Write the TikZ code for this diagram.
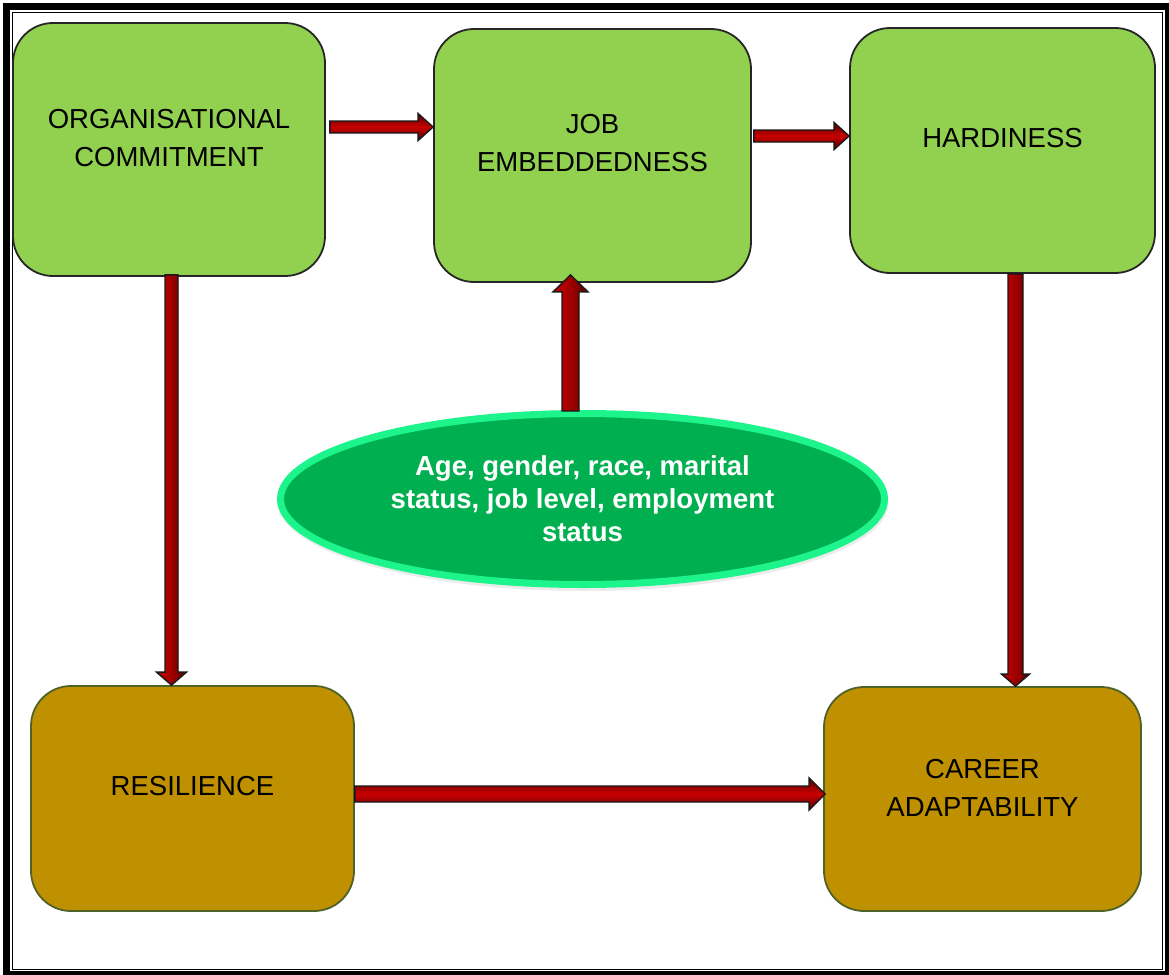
\documentclass[tikz,border=0pt]{standalone}
\usepackage{fontspec}
\setmainfont{Liberation Sans}
\usetikzlibrary{calc,shapes.geometric}

\definecolor{boxgreen}{HTML}{92D050}
\definecolor{boxgold}{HTML}{BF9000}
\definecolor{goldedge}{HTML}{4F6228}
\definecolor{ovalfill}{HTML}{00B050}
\definecolor{ovaledge}{HTML}{1DF58C}
\definecolor{arrred}{HTML}{C80000}
\definecolor{arrdark}{HTML}{5A0000}

% block arrow: start, end, shaft half-width, head half-width, head length, shading
\newcommand\blockarrow[6]{%
  \coordinate (#1-#2-hb) at ($(#2)!#5!(#1)$);
  \draw[arrowbody,#6]
    ($(#1)!#3!90:(#2)$) -- ($(#1-#2-hb)!#3!90:(#2)$) -- ($(#1-#2-hb)!#4!90:(#2)$)
    -- (#2)
    -- ($(#1-#2-hb)!#4!-90:(#2)$) -- ($(#1-#2-hb)!#3!-90:(#2)$) -- ($(#1)!#3!-90:(#2)$) -- cycle;
}

\tikzset{
  greenbox/.style={rectangle, rounded corners=40pt, draw=black!85, line width=1.8pt,
                   fill=boxgreen, inner sep=0pt},
  goldbox/.style={rectangle, rounded corners=40pt, draw=goldedge, line width=1.8pt,
                  fill=boxgold, inner sep=0pt},
  boxtext/.style={font=\fontsize{27.5}{38}\selectfont, align=center, text=black, inner sep=0pt},
  arrowbody/.style={draw=black!90, line width=1.4pt, line join=miter},
  hshade/.style={top color=arrdark, bottom color=arrdark, middle color=arrred},
  vshade/.style={left color=arrred, right color=arrdark, middle color=arrred!80!black},
}

\begin{document}
\begin{tikzpicture}[x=1pt, y=-1pt]
  \useasboundingbox (0,0) rectangle (1169,974);
  \fill[white] (0,0) rectangle (1169,974);

  % double frame
  \draw[line width=7pt] (6.5,6.5) rectangle (1168.5,974.5);
  \draw[line width=1.5pt] (12.5,12.5) rectangle (1162.5,969.5);

  % boxes
  \node[greenbox, minimum width=312pt, minimum height=253pt] (oc) at (169,149.5) {};
  \node[greenbox, minimum width=317pt, minimum height=253pt] (je) at (592.5,155.5) {};
  \node[greenbox, minimum width=305pt, minimum height=245pt] (h)  at (1002.5,150.5) {};
  \node[goldbox,  minimum width=323pt, minimum height=225pt] (r)  at (192.5,798.5) {};
  \node[goldbox,  minimum width=317pt, minimum height=224pt] (ca) at (982.5,799) {};

  \node[boxtext] (oct) at ([yshift=11.5pt]oc.center) {ORGANISATIONAL\\COMMITMENT};
  \node[boxtext] (jet) at ([yshift=12pt]je.center) {JOB\\EMBEDDEDNESS};
  \node[boxtext] (ht)  at ([yshift=12pt]h.center) {HARDINESS};
  \node[boxtext] (rt)  at ([yshift=12pt]r.center) {RESILIENCE};
  \node[boxtext] (cat) at ([yshift=11pt]ca.center) {CAREER\\ADAPTABILITY};

  % arrows
  \coordinate (s1) at ([xshift=4pt,yshift=22.5pt]oc.east);
  \coordinate (e1) at (je.west |- s1);
  \blockarrow{s1}{e1}{6pt}{13.5pt}{15pt}{hshade}

  \coordinate (s2) at ([xshift=2pt,yshift=19.5pt]je.east);
  \coordinate (e2) at (h.west |- s2);
  \blockarrow{s2}{e2}{6pt}{13.5pt}{15pt}{hshade}

  \coordinate (s4) at ([xshift=2.5pt,yshift=2pt]oc.south);
  \coordinate (e4) at (s4 |- r.north);
  \blockarrow{s4}{e4}{6.5pt}{15pt}{13pt}{vshade}

  \coordinate (s5) at ([xshift=13pt]h.south);
  \coordinate (e5) at (s5 |- ca.north);
  \blockarrow{s5}{e5}{7.5pt}{14pt}{12pt}{vshade}

  \coordinate (s6) at ([yshift=4.5pt]r.east);
  \coordinate (e6) at ([xshift=2pt]ca.west |- s6);
  \blockarrow{s6}{e6}{8pt}{16pt}{16pt}{hshade}

  % oval with personal variables
  \fill[black, opacity=0.08] (583.5,503) ellipse [x radius=305pt, y radius=88pt];
  \node[ellipse, draw=ovaledge, line width=7pt, fill=ovalfill,
        minimum width=604pt, minimum height=171pt, inner sep=0pt,
        font=\bfseries\fontsize{27.5}{33}\selectfont, text=white, align=center]
    (ov) at (582.5,499) {Age, gender, race, marital\\status, job level, employment\\status};

  \coordinate (s3) at ([xshift=-12pt,yshift=-1pt]ov.north);
  \coordinate (e3) at ($(je.south -| s3)+(0,-8)$);
  \blockarrow{s3}{e3}{8.5pt}{17.5pt}{17pt}{vshade}
\end{tikzpicture}
\end{document}
